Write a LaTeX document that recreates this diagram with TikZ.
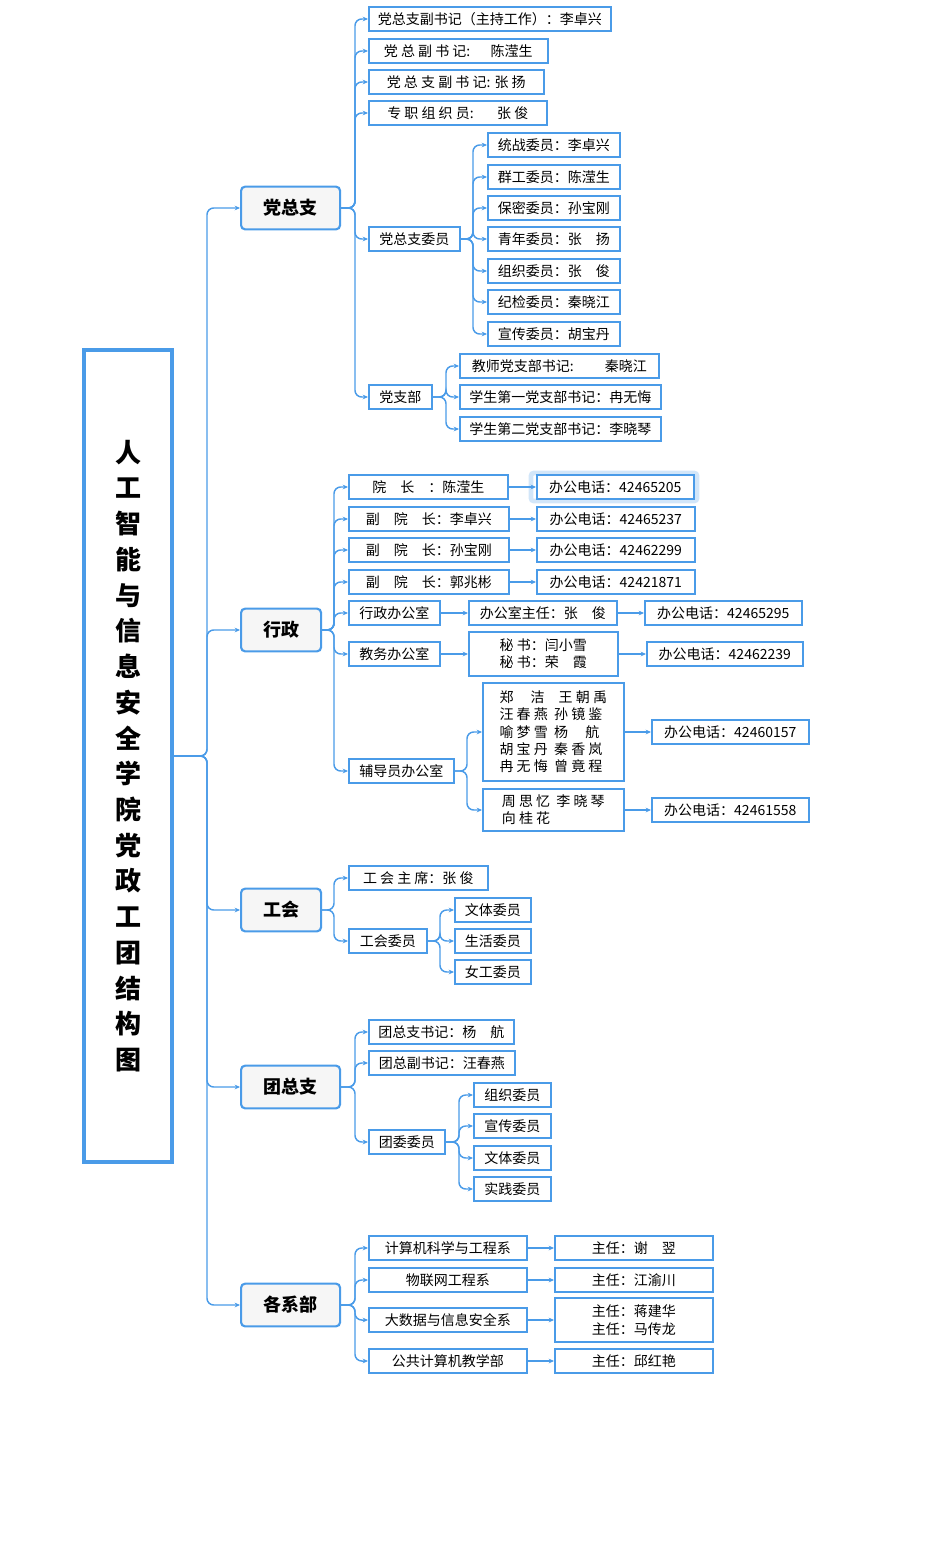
\documentclass[tikz,border=0pt]{standalone}
\usepackage{fontspec}
\setmainfont{Noto Sans CJK SC}
\usetikzlibrary{arrows.meta}
\definecolor{bl}{HTML}{4A9BE8}
\newcommand\bx[6]{\node[box,minimum width={(#3-#2)*0.75},minimum height={#5*0.75},anchor=west] (#1) at (#2,#4) {#6};}
\newcommand\lv[5]{\node[lvl,minimum width={(#3-#2)*0.75},anchor=west] (#1) at (#2,#4) {#5};}
\newcommand\br[3]{\draw[conn] (#1.east) -- (#1.east -| #2) |- (#3.west);}
\begin{document}
\begin{tikzpicture}[x=0.75pt,y=-0.75pt,
 box/.style={draw=bl,line width=1.2pt,fill=white,inner sep=0pt,font=\fontsize{10.5}{13}\selectfont,align=left},
 lvl/.style={draw=bl,line width=1.6pt,fill=gray!7,rounded corners=3pt,minimum height=32pt,inner sep=0pt,font=\fontsize{13.5}{16}\selectfont\bfseries},
 conn/.style={draw=bl,line width=1.1pt,rounded corners=5pt,-{Stealth[length=4pt,width=3.5pt]}}]
\useasboundingbox (0,0) rectangle (950,1553);
% trunk coordinates
\coordinate (T0) at (207,0);
\coordinate (T1) at (355,0);
\coordinate (T2) at (473,0);
\coordinate (T3) at (446,0);
\coordinate (T4) at (334,0);
\coordinate (T5) at (467,0);
\coordinate (T6) at (440,0);
\coordinate (T7) at (459,0);
% title
\node[draw=bl,line width=2.3pt,fill=white,minimum width={88*0.75},minimum height={812*0.75},inner sep=0pt,font=\fontsize{19.5}{26.8}\selectfont\bfseries,align=center] (root) at (128,756)
{人\\工\\智\\能\\与\\信\\息\\安\\全\\学\\院\\党\\政\\工\\团\\结\\构\\图};
% level 1
\lv{dz}{240}{339}{208}{党总支}
\lv{xz}{240}{320}{630}{行政}
\lv{gh}{240}{320}{910}{工会}
\lv{tz}{240}{339}{1087}{团总支}
\lv{xb}{240}{339}{1305}{各系部}
\foreach \n in {dz,xz,gh,tz,xb} {\br{root}{T0}{\n}}
% 党总支
\bx{a1}{368}{610}{19}{24}{党总支副书记（主持工作）：李卓兴}
\bx{a2}{368}{547}{51}{24}{党 总 副 书 记:\quad\ \ 陈滢生}
\bx{a3}{368}{543}{82}{24}{党 总 支 副 书 记: 张 扬}
\bx{a4}{368}{546}{113}{24}{专 职 组 织 员:\quad\ \ \ 张 俊}
\bx{a5}{368}{459}{239}{24}{党总支委员}
\bx{a6}{368}{431}{397}{24}{党支部}
\foreach \n in {a1,a2,a3,a4,a5,a6} {\br{dz}{T1}{\n}}
\bx{b1}{487}{619}{145}{24}{统战委员：李卓兴}
\bx{b2}{487}{619}{177}{24}{群工委员：陈滢生}
\bx{b3}{487}{619}{208}{24}{保密委员：孙宝刚}
\bx{b4}{487}{619}{239}{24}{青年委员：张\quad 扬}
\bx{b5}{487}{619}{271}{24}{组织委员：张\quad 俊}
\bx{b6}{487}{619}{302}{24}{纪检委员：秦晓江}
\bx{b7}{487}{619}{334}{24}{宣传委员：胡宝丹}
\foreach \n in {b1,b2,b3,b4,b5,b6,b7} {\br{a5}{T2}{\n}}
\bx{c1}{459}{658}{366}{24}{教师党支部书记:\qquad\ 秦晓江}
\bx{c2}{459}{660}{397}{24}{学生第一党支部书记：冉无悔}
\bx{c3}{459}{660}{429}{24}{学生第二党支部书记：李晓琴}
\foreach \n in {c1,c2,c3} {\br{a6}{T3}{\n}}
% 行政
\bx{d1}{348}{507}{487}{24}{院\quad 长\quad ：陈滢生}
\bx{d2}{348}{508}{519}{24}{副\quad 院\quad 长：李卓兴}
\bx{d3}{348}{508}{550}{24}{副\quad 院\quad 长：孙宝刚}
\bx{d4}{348}{508}{582}{24}{副\quad 院\quad 长：郭兆彬}
\bx{d5}{348}{439}{613}{24}{行政办公室}
\bx{d6}{348}{439}{654}{24}{教务办公室}
\bx{d7}{348}{453}{771}{24}{辅导员办公室}
\foreach \n in {d1,d2,d3,d4,d5,d6,d7} {\br{xz}{T4}{\n}}
\draw[bl!25,line width=3.5pt,rounded corners=2pt] (531,473) rectangle (697,501);
\bx{p1}{536}{693}{487}{24}{办公电话：42465205}
\bx{p2}{536}{694}{519}{24}{办公电话：42465237}
\bx{p3}{536}{694}{550}{24}{办公电话：42462299}
\bx{p4}{536}{694}{582}{24}{办公电话：42421871}
\draw[conn] (d1) -- (p1); \draw[conn] (d2) -- (p2);
\draw[conn] (d3) -- (p3); \draw[conn] (d4) -- (p4);
\bx{e1}{468}{616}{613}{24}{办公室主任：张\quad 俊}
\bx{e2}{644}{801}{613}{24}{办公电话：42465295}
\draw[conn] (d5) -- (e1); \draw[conn] (e1) -- (e2);
\bx{f1}{468}{617}{654}{44}{秘 书：闫小雪\\秘 书：荣\quad 霞}
\bx{f2}{646}{802}{654}{24}{办公电话：42462239}
\draw[conn] (d6) -- (f1); \draw[conn] (f1) -- (f2);
\bx{g1}{482}{623}{732}{98}{郑\quad\ 洁\quad 王 朝 禹\\汪 春 燕\ \ 孙 镜 鉴\\喻 梦 雪\ \ 杨\quad\ 航\\胡 宝 丹\ \ 秦 香 岚\\冉 无 悔\ \ 曾 竟 程}
\bx{g2}{482}{623}{810}{42}{周 思 忆\ \ 李 晓 琴\\向 桂 花\hspace{5.2em}}
\foreach \n in {g1,g2} {\br{d7}{T5}{\n}}
\bx{h1}{651}{808}{732}{24}{办公电话：42460157}
\bx{h2}{651}{808}{810}{24}{办公电话：42461558}
\draw[conn] (g1) -- (h1); \draw[conn] (g2) -- (h2);
% 工会
\bx{i1}{348}{487}{878}{24}{工 会 主 席：张 俊}
\bx{i2}{348}{426}{941}{24}{工会委员}
\foreach \n in {i1,i2} {\br{gh}{T4}{\n}}
\bx{j1}{454}{530}{910}{24}{文体委员}
\bx{j2}{454}{530}{941}{24}{生活委员}
\bx{j3}{454}{530}{972}{24}{女工委员}
\foreach \n in {j1,j2,j3} {\br{i2}{T6}{\n}}
% 团总支
\bx{k1}{368}{513}{1032}{24}{团总支书记：杨\quad 航}
\bx{k2}{368}{514}{1063}{24}{团总副书记：汪春燕}
\bx{k3}{368}{444}{1142}{24}{团委委员}
\foreach \n in {k1,k2,k3} {\br{tz}{T1}{\n}}
\bx{l1}{473}{550}{1095}{24}{组织委员}
\bx{l2}{473}{550}{1126}{24}{宣传委员}
\bx{l3}{473}{550}{1158}{24}{文体委员}
\bx{l4}{473}{550}{1189}{24}{实践委员}
\foreach \n in {l1,l2,l3,l4} {\br{k3}{T7}{\n}}
% 各系部
\bx{m1}{368}{526}{1248}{24}{计算机科学与工程系}
\bx{m2}{368}{526}{1280}{24}{物联网工程系}
\bx{m3}{368}{526}{1320}{24}{大数据与信息安全系}
\bx{m4}{368}{526}{1361}{24}{公共计算机教学部}
\foreach \n in {m1,m2,m3,m4} {\br{xb}{T1}{\n}}
\bx{n1}{554}{712}{1248}{24}{主任：谢\quad 翌}
\bx{n2}{554}{712}{1280}{24}{主任：江渝川}
\bx{n3}{554}{712}{1320}{44}{主任：蒋建华\\主任：马传龙}
\bx{n4}{554}{712}{1361}{24}{主任：邱红艳}
\draw[conn] (m1) -- (n1); \draw[conn] (m2) -- (n2);
\draw[conn] (m3) -- (n3); \draw[conn] (m4) -- (n4);
\end{tikzpicture}
\end{document}
